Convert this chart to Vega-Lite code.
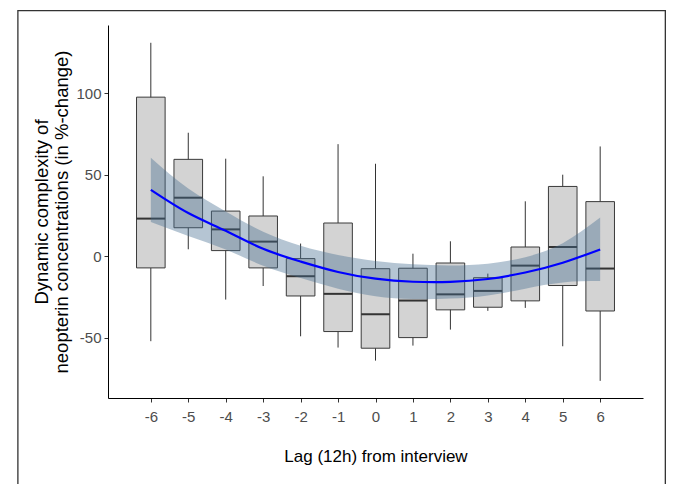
{
  "$schema": "https://vega.github.io/schema/vega-lite/v6.json",
  "autosize": {"type": "none"},
  "width": 535,
  "height": 373,
  "padding": {"left": 108, "top": 25, "right": 30, "bottom": 86},
  "background": "white",
  "config": {
    "view": {"stroke": null},
    "font": "Liberation Sans",
    "axis": {
      "grid": false,
      "domainColor": "black",
      "domainWidth": 1,
      "tickColor": "#333333",
      "tickSize": 4,
      "labelColor": "#4d4d4d",
      "labelFont": "Liberation Sans",
      "labelFontSize": 15,
      "titleFont": "Liberation Sans",
      "titleFontSize": 17,
      "titleFontWeight": "normal",
      "titleColor": "black"
    }
  },
  "datasets": {
    "boxes": [
      {"lag": -6, "lo": -52, "q1": -7.1, "med": 23.1, "q3": 97.5, "hi": 130.8},
      {"lag": -5, "lo": 4.3, "q1": 17.5, "med": 35.9, "q3": 59.4, "hi": 75.7},
      {"lag": -4, "lo": -26.5, "q1": 3.5, "med": 16.5, "q3": 27.7, "hi": 59.8},
      {"lag": -3, "lo": -18.2, "q1": -7.1, "med": 9, "q3": 24.7, "hi": 49},
      {"lag": -2, "lo": -49, "q1": -24.3, "med": -12.2, "q3": -1.4, "hi": 7.8},
      {"lag": -1, "lo": -55.9, "q1": -46.1, "med": -23, "q3": 20.4, "hi": 68.7},
      {"lag": 0, "lo": -63.9, "q1": -56.3, "med": -35.5, "q3": -7.6, "hi": 56.7},
      {"lag": 1, "lo": -54.7, "q1": -49.8, "med": -27.1, "q3": -7.3, "hi": 1.6},
      {"lag": 2, "lo": -44.9, "q1": -32.8, "med": -23.3, "q3": -4.1, "hi": 9.2},
      {"lag": 3, "lo": -33.4, "q1": -31.2, "med": -21.2, "q3": -13.1, "hi": -10.6},
      {"lag": 4, "lo": -31.6, "q1": -27.3, "med": -5.7, "q3": 5.7, "hi": 33.7},
      {"lag": 5, "lo": -55.1, "q1": -17.9, "med": 5.7, "q3": 42.8, "hi": 50},
      {"lag": 6, "lo": -76.3, "q1": -33.5, "med": -7.5, "q3": 33.5, "hi": 67.3}
    ],
    "fit": [
      {"lag": -6, "fit": 40.7, "lower": 21, "upper": 60.4},
      {"lag": -5, "fit": 26.5, "lower": 12.5, "upper": 41.5},
      {"lag": -4, "fit": 15.6, "lower": 4.2, "upper": 27.5},
      {"lag": -3, "fit": 4.6, "lower": -5.8, "upper": 15},
      {"lag": -2, "fit": -3.2, "lower": -13.3, "upper": 6.5},
      {"lag": -1, "fit": -9.6, "lower": -19.8, "upper": 0.8},
      {"lag": 0, "fit": -13.7, "lower": -24.4, "upper": -2.8},
      {"lag": 1, "fit": -15.6, "lower": -26.2, "upper": -4.9},
      {"lag": 2, "fit": -15.7, "lower": -25.9, "upper": -5.6},
      {"lag": 3, "fit": -13.9, "lower": -24, "upper": -4.5},
      {"lag": 4, "fit": -9.9, "lower": -19.8, "upper": -0.5},
      {"lag": 5, "fit": -3.9, "lower": -16, "upper": 8},
      {"lag": 6, "fit": 4.2, "lower": -15.2, "upper": 23.7}
    ]
  },
  "layer": [
    {
      "data": {"values": [{}]},
      "mark": {"type": "rect", "fill": null, "stroke": "#333333", "strokeWidth": 1.3, "clip": false},
      "encoding": {
        "x": {"datum": -9.55, "type": "quantitative", "scale": {"domain": [-7.01, 7.01], "nice": false, "zero": false}},
        "x2": {"datum": 7.74},
        "y": {"datum": 150.5, "type": "quantitative", "scale": {"domain": [-86.8, 141.7], "nice": false, "zero": false}},
        "y2": {"datum": -250}
      }
    },
    {
      "data": {"name": "boxes"},
      "layer": [
        {
          "mark": {"type": "rule", "color": "#333333", "strokeWidth": 1},
          "encoding": {
            "x": {"field": "lag", "type": "quantitative"},
            "y": {"field": "lo", "type": "quantitative"},
            "y2": {"field": "hi"}
          }
        },
        {
          "mark": {"type": "bar", "size": 28.6, "fill": "#d3d3d3", "stroke": "#3a3a3a", "strokeWidth": 1, "orient": "vertical"},
          "encoding": {
            "x": {"field": "lag", "type": "quantitative"},
            "y": {"field": "q1", "type": "quantitative"},
            "y2": {"field": "q3"}
          }
        },
        {
          "mark": {"type": "tick", "orient": "horizontal", "size": 28.6, "thickness": 2, "color": "#333333", "opacity": 1},
          "encoding": {
            "x": {"field": "lag", "type": "quantitative"},
            "y": {"field": "med", "type": "quantitative"}
          }
        }
      ]
    },
    {
      "data": {"name": "fit"},
      "layer": [
        {
          "mark": {"type": "area", "color": "#466e91", "opacity": 0.4, "interpolate": "natural"},
          "encoding": {
            "x": {"field": "lag", "type": "quantitative"},
            "y": {"field": "lower", "type": "quantitative"},
            "y2": {"field": "upper"}
          }
        },
        {
          "mark": {"type": "line", "color": "#0000ff", "strokeWidth": 2.2, "interpolate": "natural"},
          "encoding": {
            "x": {
              "field": "lag", "type": "quantitative",
              "axis": {"title": "Lag (12h) from interview", "values": [-6,-5,-4,-3,-2,-1,0,1,2,3,4,5,6], "labelExpr": "'' + datum.value", "labelPadding": 7, "titlePadding": 24}
            },
            "y": {
              "field": "fit", "type": "quantitative",
              "axis": {"title": ["Dynamic complexity of", "neopterin concentrations (in %-change)"], "values": [-50, 0, 50, 100], "labelExpr": "'' + datum.value", "labelPadding": 3, "titlePadding": 4, "titleFontSize": 18.5, "titleLineHeight": 20}
            }
          }
        }
      ]
    }
  ]
}
